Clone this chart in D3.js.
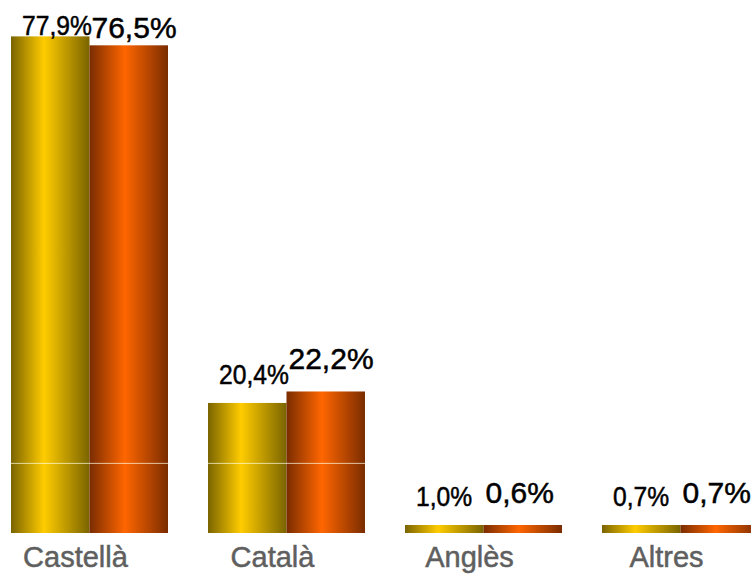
<!DOCTYPE html>
<html><head><meta charset="utf-8">
<script src="https://cdn.jsdelivr.net/npm/d3@7"></script>
<style>html,body{margin:0;padding:0;background:#fff;overflow:hidden}</style>
</head><body>
<script>
const categories = ["Castellà", "Català", "Anglès", "Altres"];
const seriesNames = ["A", "B"];
const seriesA = [77.9, 20.4, 1.0, 0.7];
const seriesB = [76.5, 22.2, 0.6, 0.7];
const labelsA = ["77,9%", "20,4%", "1,0%", "0,7%"];
const labelsB = ["76,5%", "22,2%", "0,6%", "0,7%"];
const gridValues = [11];

const W = 751, H = 574;
const svg = d3.select("body").append("svg").attr("width", W).attr("height", H);

const defs = svg.append("defs");
function grad(id, edge, mid, midPos) {
  const g = defs.append("linearGradient").attr("id", id).attr("x1", "0").attr("x2", "1").attr("y1", "0").attr("y2", "0");
  g.append("stop").attr("offset", "0%").attr("stop-color", edge);
  g.append("stop").attr("offset", midPos).attr("stop-color", mid);
  g.append("stop").attr("offset", "100%").attr("stop-color", edge);
}
grad("gA", "#7a6400", "#ffcc00", "42%");
grad("gB", "#7a2c00", "#ff6600", "45%");

const y = d3.scaleLinear().domain([0, 80]).range([533, 23]);
const x = d3.scaleBand().domain(categories).range([11, 759]).paddingInner(40 / 197).paddingOuter(0);
const xs = d3.scaleBand().domain(seriesNames).range([0, x.bandwidth()]).padding(0);
const minH = 8;

const rows = categories.map((c, i) => ({c, vals: [
  {s: "A", v: seriesA[i], lab: labelsA[i]},
  {s: "B", v: seriesB[i], lab: labelsB[i]}
]}));

const g = svg.append("g");
const grp = g.selectAll("g.grp").data(rows).join("g").attr("class", "grp")
  .attr("transform", d => `translate(${x(d.c)},0)`);

grp.selectAll("rect").data(d => d.vals).join("rect")
  .attr("x", d => xs(d.s))
  .attr("width", xs.bandwidth())
  .attr("y", d => Math.min(y(d.v), y(0) - minH))
  .attr("height", d => Math.max(y(0) - y(d.v), minH))
  .attr("fill", d => d.s === "A" ? "url(#gA)" : "url(#gB)");

// faint gridline over bars
const clip = defs.append("clipPath").attr("id", "barclip");
rows.forEach(r => r.vals.forEach(d => {
  clip.append("rect").attr("x", x(r.c) + xs(d.s)).attr("width", xs.bandwidth())
    .attr("y", Math.min(y(d.v), y(0) - minH)).attr("height", Math.max(y(0) - y(d.v), minH));
}));
g.append("g").attr("clip-path", "url(#barclip)").selectAll("line").data(gridValues).join("line")
  .attr("x1", 0).attr("x2", W).attr("y1", d => y(d) + 0.5).attr("y2", d => y(d) + 0.5)
  .attr("stroke", "rgba(255,255,230,0.7)").attr("stroke-width", 1);

// value labels
const sx = 0.88;
grp.selectAll("text.val").data(d => d.vals).join("text").attr("class", "val")
  .attr("transform", d => {
    const lx = xs(d.s) + (d.s === "A" ? 11 : 2);
    const top = Math.min(y(d.v), y(0) - minH);
    const ty = d.s === "A" ? Math.max(top - 19, 35) : Math.max(top - 22, 38);
    return `translate(${lx},${ty}) scale(${d.s === "A" ? sx : 1},1)`;
  })
  .attr("text-anchor", "start")
  .attr("font-family", "Liberation Sans, Arial, sans-serif")
  .attr("font-size", d => d.s === "A" ? 28 : 30)
  .attr("fill", "#000")
  .attr("stroke", "#000").attr("stroke-width", 0.5)
  .text(d => d.lab);

// category labels
g.selectAll("text.cat").data(categories).join("text").attr("class", "cat")
  .attr("x", d => x(d) + x.bandwidth() / 2 - 14)
  .attr("y", 567)
  .attr("text-anchor", "middle")
  .attr("font-family", "Liberation Sans, Arial, sans-serif")
  .attr("font-size", 29)
  .attr("fill", "#5f5f5f")
  .attr("stroke", "#5f5f5f").attr("stroke-width", 0.5)
  .text(d => d);
</script>
</body></html>
